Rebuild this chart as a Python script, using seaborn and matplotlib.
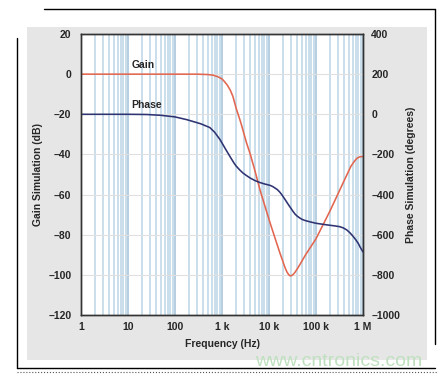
import numpy as np
import matplotlib
matplotlib.use("Agg")
import matplotlib.pyplot as plt
import seaborn as sns
from matplotlib.patches import Rectangle
from matplotlib.lines import Line2D

# datos (frecuencia en Hz)
gain_freq = [1, 10, 100, 300, 500, 650, 700, 800, 900, 1000, 1100, 1200, 1300, 1500, 1700,
             2000, 2500, 3300, 4000, 5000, 6400, 8000, 10500, 14000, 17000, 22000, 24000,
             26000, 28000, 30000, 32000, 35000, 40000, 45000, 60000, 100000, 200000,
             380000, 550000, 650000, 735000, 850000, 1000000]
gain_db = [0, 0, 0, 0, -0.2, -0.5, -0.8, -1.2, -1.8, -2.4, -3.4, -4.5, -5.5, -8, -11,
           -17, -24, -34, -40, -48, -57.5, -65, -74, -83, -89, -96.5, -98.5,
           -99.8, -100.5, -100.4, -100, -99, -97, -95, -90, -82, -68,
           -54, -46, -43.5, -42, -41.2, -41]

phase_freq = [1, 10, 25, 50, 100, 180, 350, 550, 700, 900, 1000, 1200, 1500, 1800, 2000,
              2400, 2800, 3300, 4000, 5000, 6400, 8000, 10500, 12000, 15000, 17000, 19000,
              22000, 25000, 28000, 32000, 36000, 40000, 46000, 52000, 60000, 75000, 100000,
              170000, 250000, 320000, 380000, 450000, 525000, 600000, 700000, 800000,
              870000, 1000000]
phase_deg = [0, 0, -1, -5, -13, -27, -47, -66, -90, -125, -143, -175, -213, -243, -258,
             -278, -293, -305, -318, -330, -340, -347, -354, -360, -375, -388, -403,
             -425, -445, -462, -482, -498, -508, -518, -525, -530, -536, -543,
             -551, -556, -560, -566, -576, -590, -605, -625, -645, -662, -686]

xtick_vals = [1, 10, 100, 1e3, 1e4, 1e5, 1e6]
xtick_labels = ["1", "10", "100", "1 k", "10 k", "100 k", "1 M"]
gain_ticks = [20, 0, -20, -40, -60, -80, -100, -120]
phase_ticks = [400, 200, 0, -200, -400, -600, -800, -1000]

gain_color = "#e2664f"
phase_color = "#2e3372"


def fmt(v):
    # guion largo como en el original
    return str(v).replace("-", "\u2013")


sns.set_style("white")
plt.rcParams["font.family"] = ["Liberation Sans", "DejaVu Sans"]
plt.rcParams["font.weight"] = "bold"

fig = plt.figure(figsize=(4.42, 3.78), dpi=100)

# panel gris de fondo y marco de la captura
fig.patches.append(Rectangle((0.061, 0.048), 0.905, 0.881, transform=fig.transFigure,
                             facecolor="#e6e6e6", edgecolor="none", zorder=-2))
fig.add_artist(Line2D([0.038, 0.038], [0.026, 0.90], color="black", lw=1))
fig.add_artist(Line2D([0.10, 0.984], [0.976, 0.976], color="black", lw=1))
fig.add_artist(Line2D([0.984, 0.984], [0.09, 0.976], color="black", lw=1))
fig.add_artist(Line2D([0.038, 0.984], [0.026, 0.026], color="black", lw=1))
fig.add_artist(Line2D([0.038, 0.99], [0.016, 0.016], color="#555555", lw=0.8, ls=":"))

ax = fig.add_axes([0.1833, 0.1667, 0.638, 0.7433])
ax.set_facecolor("white")

sns.lineplot(x=gain_freq, y=gain_db, ax=ax, color=gain_color, lw=1.15)
ax.set_xscale("log")
ax.set_ylim(-120, 20)
ax.set_yticks(gain_ticks)
ax.set_yticklabels([fmt(v) for v in gain_ticks])

ax2 = ax.twinx()
sns.lineplot(x=phase_freq, y=phase_deg, ax=ax2, color=phase_color, lw=1.15)
ax2.set_ylim(-1000, 400)
ax2.set_yticks(phase_ticks)
ax2.set_yticklabels([fmt(v) for v in phase_ticks])
ax2.tick_params(axis="y", length=0, labelsize=7.5, pad=6)
ax2.set_ylabel("Phase Simulation (degrees)", fontsize=7.5, fontweight="bold", labelpad=4)

# eje x (despues de twinx para que no se pierdan las etiquetas)
ax.set_xlim(1, 1e6)
ax.set_xticks(xtick_vals)
ax.set_xticklabels(xtick_labels)
ax.xaxis.set_minor_locator(matplotlib.ticker.LogLocator(base=10, subs=np.arange(2, 10)))
ax.xaxis.set_minor_formatter(matplotlib.ticker.NullFormatter())
ax.set_axisbelow(True)
ax.grid(which="minor", axis="x", color="#bcd4e6", lw=1.1)
ax.grid(which="major", axis="x", color="#a3c0d8", lw=1.1)
ax.grid(which="major", axis="y", color="#e0e0e0", lw=0.8)
ax.tick_params(axis="both", which="both", length=0, labelsize=7.5)
ax.tick_params(axis="y", pad=7)
ax.tick_params(axis="x", pad=5)
ax.set_xlabel("Frequency (Hz)", fontsize=7.5, fontweight="bold", labelpad=5)
ax.set_ylabel("Gain Simulation (dB)", fontsize=7.5, fontweight="bold", labelpad=4)

ax.text(21, 4.6, "Gain", fontsize=7.5, fontweight="bold", ha="center", va="center")
ax.text(25, -15.4, "Phase", fontsize=7.5, fontweight="bold", ha="center", va="center")

for a in (ax, ax2):
    for s in a.spines.values():
        s.set_color("#333333")
        s.set_linewidth(1)

fig.text(0.955, 0.02, "www.cntronics.com", color="#bfe0bf", fontsize=14,
         ha="right", va="bottom", fontweight="normal")

fig.savefig("out.png", dpi=100)
